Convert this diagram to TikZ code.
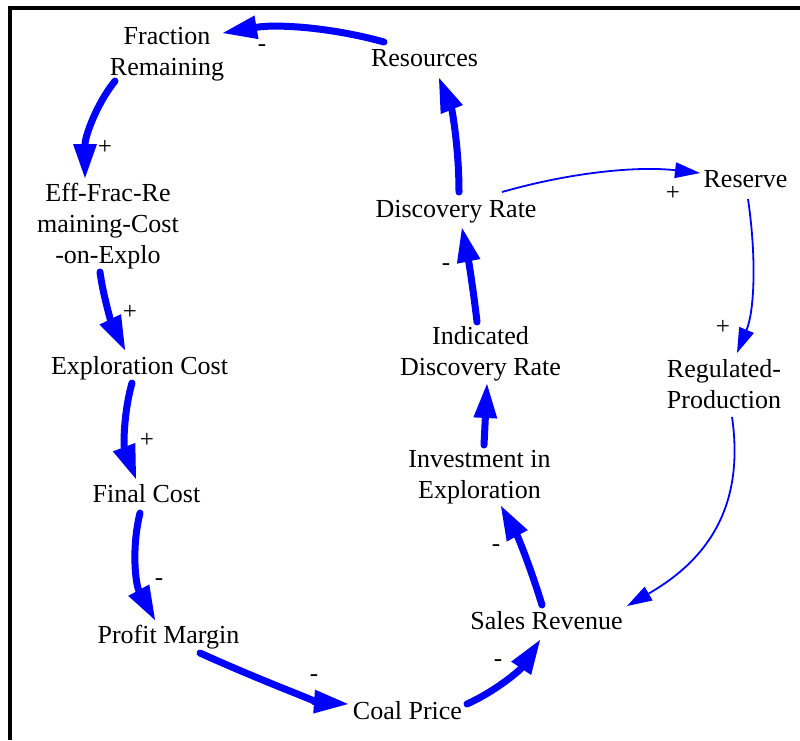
\documentclass[tikz,border=0pt]{standalone}
\usepackage{fontspec}
\setmainfont{Liberation Serif}
\usetikzlibrary{arrows.meta}
\begin{document}
\begin{tikzpicture}[x=1pt,y=-1pt,
  var/.style={font=\fontsize{26}{31}\selectfont, align=center, inner sep=0pt, text=black},
  sgn/.style={font=\fontsize{25}{28}\selectfont, inner sep=0pt, text=black},
  thk/.style={draw=blue, line width=7pt, line cap=round, -{Triangle[length=34pt,width=24pt,line width=0pt]}},
  thn/.style={draw=blue, line width=1.8pt, -{Triangle[length=25pt,width=16pt,line width=0pt]}},
]
\useasboundingbox (0,0) rectangle (800,740);
\draw[line width=4pt] (9.5,740) -- (9.5,7.7) -- (800,7.7);

% variables
\node[var] (fr) at (167,54) {Fraction\\Remaining};
\node[var] (res) at (424.5,58) {Resources};
\node[var] (disc) at (456,212) {Discovery Rate};
\node[var] (reserve) at (745.5,179) {Reserve};
\node[var] (eff) at (108,226) {Eff-Frac-Re\\maining-Cost\\-on-Explo};
\node[var] (expc) at (139.5,368) {Exploration Cost};
\node[var] (ind) at (480.5,354) {Indicated\\Discovery Rate};
\node[var] (reg) at (724,384) {Regulated-\\Production};
\node[var] (inv) at (479.5,477) {Investment in\\Exploration};
\node[var] (final) at (146.5,494) {Final Cost};
\node[var] (profit) at (168.5,637) {Profit Margin};
\node[var] (sales) at (546.5,621) {Sales Revenue};
\node[var] (coal) at (407.5,711) {Coal Price};

% thick links
\draw[thk] ([shift={(-40.5,-16)}]res.center) .. controls (330,27) and (276,24) .. ([shift={(56,-21)}]fr.center);
\draw[thk] ([shift={(-52,27)}]fr.center) .. controls (95,106) and (85,138) .. ([shift={(-23,-48)}]eff.center);
\draw[thk] ([shift={(-8,46)}]eff.center) .. controls (103,295) and (111,321) .. ([shift={(-14.5,-18)}]expc.center);
\draw[thk] ([shift={(-7.5,15)}]expc.center) .. controls (123,415) and (124,447) .. ([shift={(-10.5,-15)}]final.center);
\draw[thk] ([shift={(-6.5,19)}]final.center) .. controls (131,550) and (136,585) .. ([shift={(-13.5,-17)}]profit.center);
\draw[thk] ([shift={(31.5,16)}]profit.center) .. controls (271,685) and (320,702) .. ([shift={(-59.5,-7)}]coal.center);
\draw[thk] ([shift={(59.5,-7)}]coal.center) .. controls (496,691) and (520,670) .. ([shift={(-6.5,19)}]sales.center);
\draw[thk] ([shift={(-4.5,-16)}]sales.center) .. controls (532,572) and (519,539) .. ([shift={(21.5,29)}]inv.center);
\draw[thk] ([shift={(4.5,-32)}]inv.center) -- ([shift={(6.5,30)}]ind.center);
\draw[thk] ([shift={(-3.5,-32)}]ind.center) .. controls (474,295) and (469,263) .. ([shift={(6,16)}]disc.center);
\draw[thk] ([shift={(3,-20)}]disc.center) .. controls (459,148) and (452,110) .. ([shift={(14.5,20)}]res.center);

% thin links
\draw[thn] ([shift={(46,-20)}]disc.center) .. controls (572,172) and (638,166) .. ([shift={(-45.5,-6)}]reserve.center);
\draw[thn] ([shift={(2.5,20)}]reserve.center) .. controls (757,261) and (754,312) .. ([shift={(13,-31)}]reg.center);
\draw[thn] ([shift={(8,33)}]reg.center) .. controls (745,507) and (707,560) .. ([shift={(80.5,-15)}]sales.center);

% polarity signs
\node[sgn] (s1) at (262,48) {-};
\node[sgn] (s2) at (105,147) {+};
\node[sgn] (s3) at (130,312) {+};
\node[sgn] (s4) at (147,440) {+};
\node[sgn] (s5) at (159,582) {-};
\node[sgn] (s6) at (314,678) {-};
\node[sgn] (s7) at (498,663) {-};
\node[sgn] (s8) at (496,548) {-};
\node[sgn] (s10) at (446,267) {-};
\node[sgn] (s12) at (673,193) {+};
\node[sgn] (s13) at (723,327) {+};
\end{tikzpicture}
\end{document}
